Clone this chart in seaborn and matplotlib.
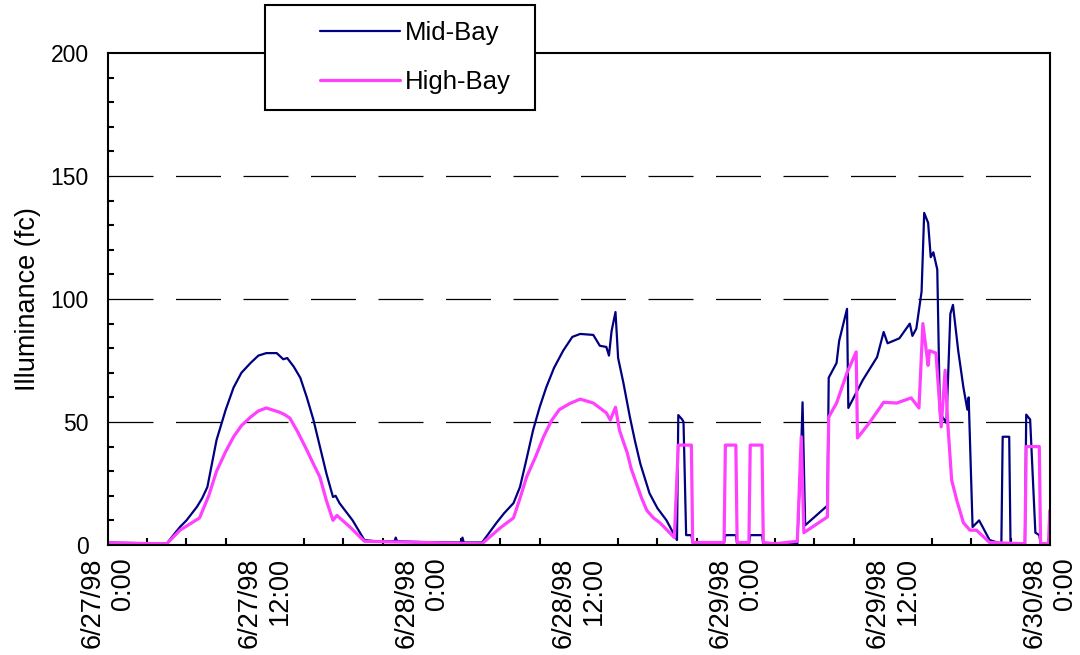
import numpy as np
import pandas as pd
import matplotlib
matplotlib.use("Agg")
import matplotlib.pyplot as plt
import seaborn as sns
from matplotlib.patches import Rectangle
from matplotlib.ticker import MultipleLocator

# hours since 6/27/98 0:00, illuminance in foot-candles
mid_hours = [0, 2, 4, 4.5, 5.0, 5.5, 6.0, 6.8, 7.2, 7.6,
             8.3, 9.0, 9.6, 10.2, 10.9, 11.5, 12.1, 12.9, 13.4, 13.7,
             14.2, 14.7, 15.2, 15.7, 16.2, 16.7, 17.2, 17.4, 17.7, 18.7,
             19.6, 20.5, 21.9, 22.0, 22.1, 24, 27.0, 27.1, 27.2, 28.6,
             29.7, 30.3, 31, 31.5, 32.0, 32.5, 33.0, 33.5, 34.1, 34.8,
             35.5, 36.1, 37.1, 37.6, 38.1, 38.3, 38.5, 38.8, 39.0, 39.4,
             39.9, 40.3, 40.7, 41.4, 42.0, 42.7, 43.5, 43.6, 43.9, 44.0,
             44.2, 44.6, 44.7, 47.1, 47.2, 48.0, 48.1, 49.0, 49.1, 50.0,
             50.1, 52.7, 53.0, 53.1, 53.3, 55.0, 55.1, 55.7, 55.9, 56.5,
             56.6, 57.7, 58.8, 59.3, 59.6, 60.5, 61.3, 61.5, 61.8, 62.2,
             62.4, 62.7, 62.9, 63.1, 63.4, 63.6, 64.1, 64.4, 64.6, 65.0,
             65.4, 65.7, 65.8, 66.1, 66.6, 67.4, 68.3, 68.4, 68.9, 69.0,
             70.1, 70.2, 70.5, 70.9, 71.2, 71.3, 72]
mid_vals = [1, 0.8, 0.5, 0.6, 4, 7.3, 10, 15.5, 19, 23.6,
            42.7, 55, 64, 70, 74, 77, 78, 78, 75.5, 76,
            72.5, 68, 60, 51, 40, 29, 19.5, 20, 17, 10,
            2, 1.5, 1.5, 3, 1.5, 1.2, 1, 3, 1, 1,
            9, 13, 17, 23.6, 35, 46.7, 56, 64, 72, 79,
            84.6, 85.8, 85.4, 81, 80.5, 77, 87, 94.7, 76, 66,
            52, 42, 33, 21, 15, 10, 2, 52.8, 51, 50,
            4, 4, 1, 1, 4, 4, 0.5, 0.5, 4, 4,
            0.5, 0.5, 40, 58, 8, 16, 68, 74, 83, 96,
            55.7, 67, 76.4, 86.6, 82, 84, 90, 85, 88, 103,
            135, 131, 117, 119, 112, 53.7, 49.6, 94, 97.6, 79,
            64, 55, 60, 7.3, 10, 2, 0.5, 44, 44, 0.5,
            0.5, 53, 51, 5, 4, 0.5, 0.5]

high_hours = [0, 4.5, 5.5, 7, 7.7, 8.3, 9.0, 9.6, 10.2, 10.9,
              11.5, 12.1, 13.1, 13.5, 13.9, 14.5, 15.2, 15.7, 16.2, 16.7,
              17.2, 17.5, 18.5, 19.6, 24, 28.6, 30, 30.5, 31, 31.5,
              32, 32.7, 33.3, 33.9, 34.5, 35.3, 36.1, 37.1, 38.1, 38.4,
              38.8, 39.1, 39.4, 39.7, 40.0, 40.4, 40.8, 41.2, 41.7, 42.2,
              43.3, 43.6, 44.6, 44.7, 47.1, 47.2, 48.0, 48.1, 49.0, 49.1,
              50.0, 50.1, 51, 52.7, 53.0, 53.2, 55.0, 55.1, 55.7, 56.5,
              57.2, 57.3, 58.2, 59.3, 60.3, 61.4, 62.0, 62.3, 62.7, 62.8,
              63.3, 63.7, 64.0, 64.2, 64.5, 64.9, 65.4, 65.9, 66.4, 67.4,
              70.1, 70.2, 71.2, 71.3, 71.9, 72]
high_vals = [0.8, 0.5, 6, 11, 20, 30, 38, 44, 48.5, 52,
             54.5, 55.7, 54, 53, 51.6, 46, 38.6, 33, 27.6, 18,
             10, 12, 7.3, 1.5, 1, 0.5, 7, 9, 11, 19,
             27.6, 36, 44, 50.5, 55, 57.5, 59.3, 57.7, 53.7, 50.8,
             56, 46.7, 42, 37.4, 31, 25, 19, 14, 11, 9,
             3, 40.6, 40.6, 1, 1, 40.6, 40.6, 1, 1, 40.6,
             40.6, 1, 0.5, 1.5, 44, 5, 11.4, 52, 57.7, 70,
             78.5, 43.5, 49.6, 58, 57.7, 59.8, 55.7, 90, 73, 79,
             78, 48, 71, 49.6, 26.4, 18, 9, 6, 6, 1,
             0.5, 40, 40, 0.5, 0.5, 14]

tick_hours = [0, 12, 24, 36, 48, 60, 72]
tick_labels = ["6/27/98\n0:00", "6/27/98\n12:00", "6/28/98\n0:00", "6/28/98\n12:00",
               "6/29/98\n0:00", "6/29/98\n12:00", "6/30/98\n0:00"]
series_names = ["Mid-Bay", "High-Bay"]
series_colors = ["#000080", "#FF40FF"]

sns.set_style("white")
plt.rcParams['font.family'] = ['Liberation Sans', 'DejaVu Sans']
plt.rcParams['text.color'] = 'black'
plt.rcParams['axes.labelcolor'] = 'black'
plt.rcParams['xtick.color'] = 'black'
plt.rcParams['ytick.color'] = 'black'

mid_df = pd.DataFrame({"hours": mid_hours, "fc": mid_vals})
high_df = pd.DataFrame({"hours": high_hours, "fc": high_vals})

fig = plt.figure(figsize=(10.8, 6.55), dpi=100)
ax = fig.add_axes([0.1, 0.168, 0.872, 0.751])

sns.lineplot(data=mid_df, x="hours", y="fc", ax=ax, color=series_colors[0],
             linewidth=1.6, sort=False, estimator=None, label=series_names[0], legend=False)
sns.lineplot(data=high_df, x="hours", y="fc", ax=ax, color=series_colors[1],
             linewidth=2.3, sort=False, estimator=None, label=series_names[1], legend=False)

ax.set_xlim(0, 72)
ax.set_ylim(0, 200)
ax.set_xticks(tick_hours)
ax.set_xticklabels(tick_labels, rotation=90, ha="center", va="top",
                   multialignment="right", fontsize=19.5)
ax.xaxis.set_minor_locator(MultipleLocator(3))
ax.set_yticks([0, 50, 100, 150, 200])
ax.yaxis.set_minor_locator(MultipleLocator(10))
ax.tick_params(axis="y", which="major", direction="out", length=6, width=1.5,
               labelsize=16.5, pad=8)
ax.tick_params(axis="y", which="minor", direction="in", length=4.5, width=1.5, left=True)
ax.tick_params(axis="x", which="major", direction="inout", length=12, width=1.5, pad=3)
ax.tick_params(axis="x", which="minor", direction="in", length=5, width=1.5, bottom=True)

for y in [50, 100, 150]:
    ax.axhline(y, color="black", linewidth=0.9, linestyle=(0, (36, 18)), zorder=0.5)

for s in ax.spines.values():
    s.set_linewidth(1.5)
    s.set_color("black")

ax.set_xlabel("")
ax.set_ylabel("Illuminance (fc)", fontsize=19.5, labelpad=7)

# legend box sits above the plot and covers the top spine
fig.patches.append(Rectangle((265 / 1080, 1 - 110 / 655), 270 / 1080, 105 / 655,
                             transform=fig.transFigure, facecolor="white",
                             edgecolor="black", linewidth=1.5, zorder=5))
handles, labels = ax.get_legend_handles_labels()
leg = fig.legend(handles, labels, loc="upper left",
                 bbox_to_anchor=(320 / 1080, 1 - 21 / 655), frameon=False,
                 fontsize=18.5, handlelength=3.1, handletextpad=0.2,
                 labelspacing=0.97, borderpad=0, borderaxespad=0)
leg.set_zorder(6)

fig.savefig("out.png", dpi=100)
